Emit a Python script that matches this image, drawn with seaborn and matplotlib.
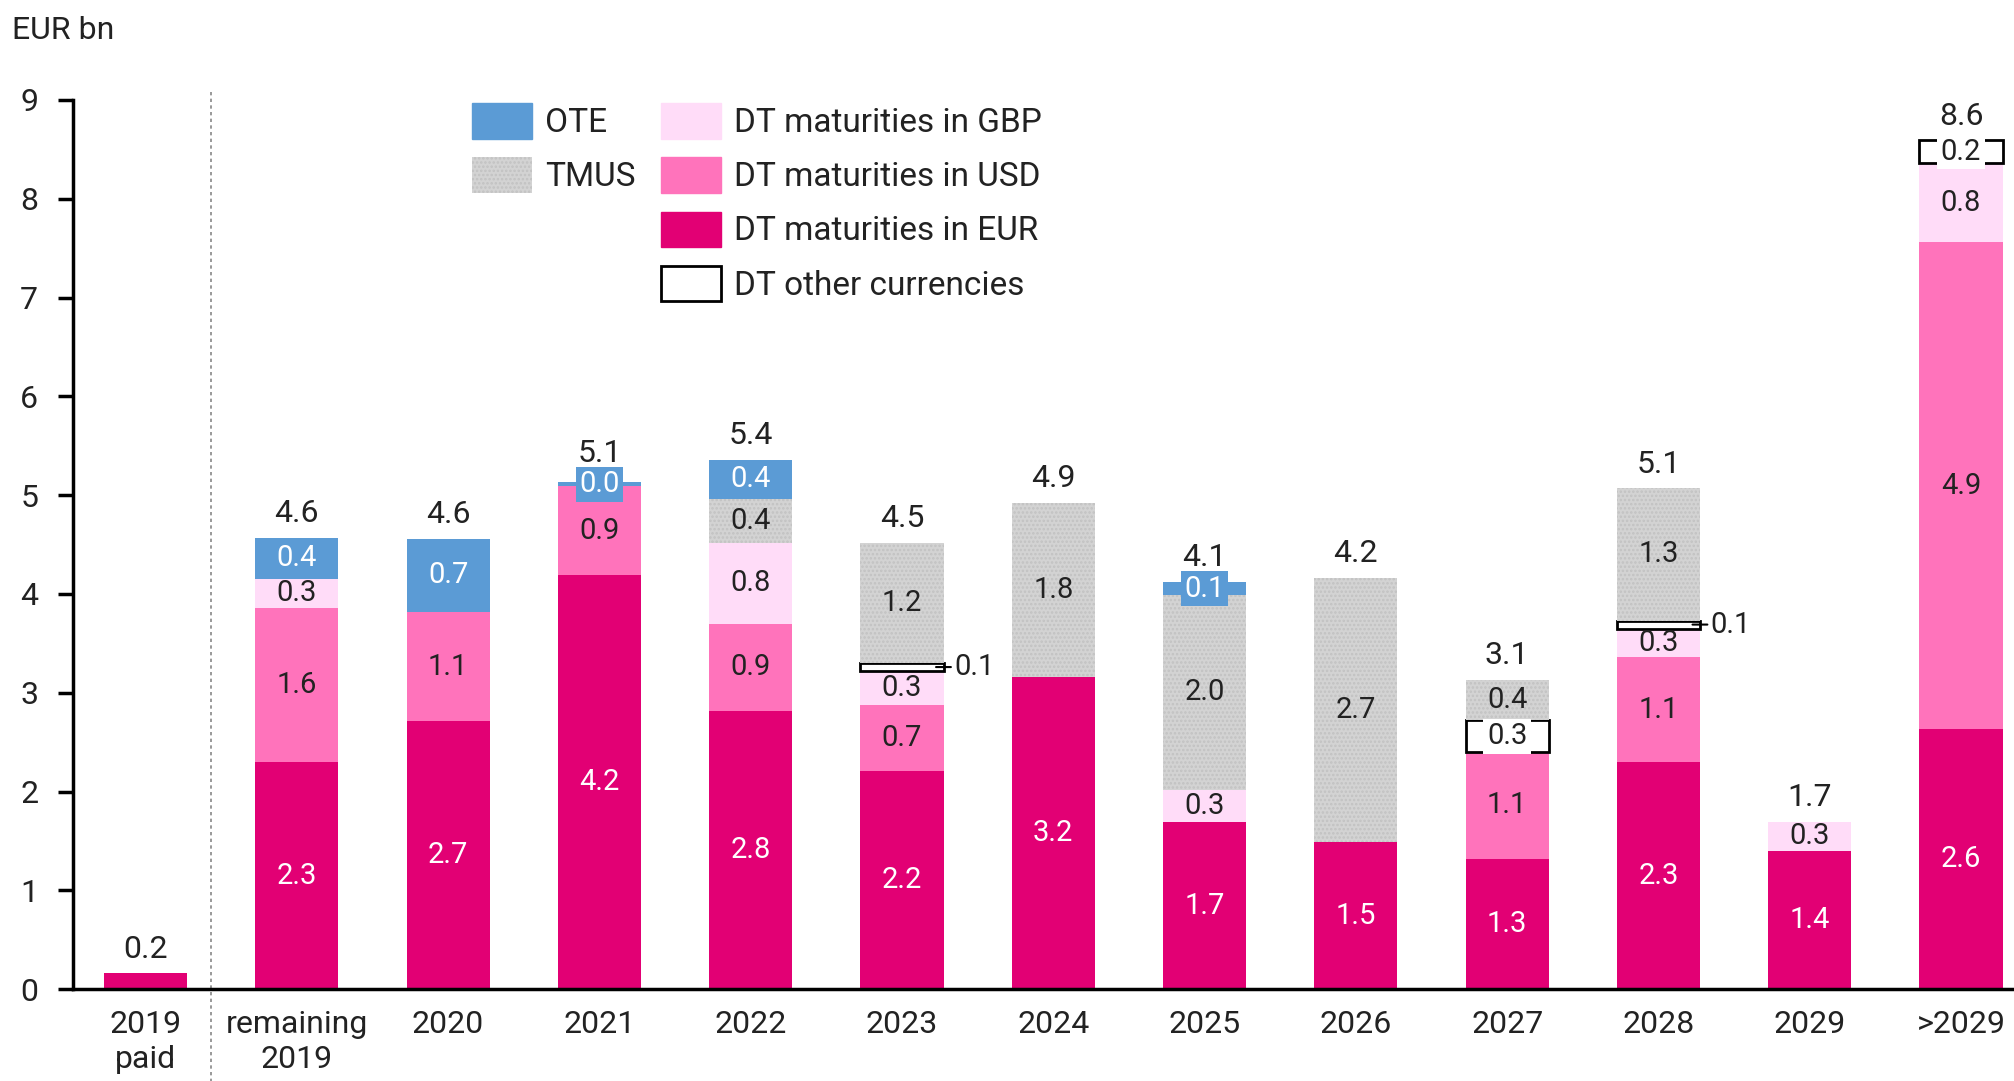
import numpy as np
import pandas as pd
import matplotlib
matplotlib.use("Agg")
import matplotlib.pyplot as plt
import matplotlib.patches as mpatches
import seaborn as sns

# ==============================================
# Data (EUR bn)
# ==============================================
categories = ["2019\npaid", "remaining\n2019", "2020", "2021", "2022", "2023", "2024",
              "2025", "2026", "2027", "2028", "2029", ">2029"]
dt_eur = [0.16, 2.30, 2.71, 4.19, 2.82, 2.21, 3.16, 1.69, 1.49, 1.32, 2.30, 1.40, 2.63]
dt_usd = [0, 1.56, 1.11, 0.90, 0.88, 0.67, 0, 0, 0, 1.08, 1.06, 0, 4.93]
dt_gbp = [0, 0.29, 0, 0, 0.82, 0.34, 0, 0.33, 0, 0, 0.29, 0.29, 0.80]
dt_other = [0, 0, 0, 0, 0, 0.08, 0, 0, 0, 0.32, 0.08, 0, 0.23]
tmus = [0, 0, 0, 0, 0.44, 1.22, 1.76, 1.97, 2.67, 0.41, 1.34, 0, 0]
ote = [0, 0.42, 0.74, 0.04, 0.40, 0, 0, 0.13, 0, 0, 0, 0, 0]

series_names = ["DT maturities in EUR", "DT maturities in USD", "DT maturities in GBP",
                "DT other currencies", "TMUS", "OTE"]
series_vals = [dt_eur, dt_usd, dt_gbp, dt_other, tmus, ote]

# colours
c_eur = "#e20074"
c_usd = "#ff73bb"
c_gbp = "#ffdcf8"
c_tmus = "#d3d3d3"
c_ote = "#5b9bd5"
txt_dark = "#222222"

sns.set_theme(style="white")
plt.rcParams["font.family"] = ["Roboto", "DejaVu Sans"]
plt.rcParams["hatch.linewidth"] = 1.2

fig = plt.figure(figsize=(20.14, 10.81), dpi=100)
ax = fig.add_axes([0.0362, 0.085, 0.9638, 0.8225])

x = np.arange(len(categories))
w = 0.55

styles = {
    "DT maturities in EUR": dict(color=c_eur, linewidth=0),
    "DT maturities in USD": dict(color=c_usd, linewidth=0),
    "DT maturities in GBP": dict(color=c_gbp, linewidth=0),
    "DT other currencies": dict(facecolor="white", edgecolor="black", linewidth=2),
    "TMUS": dict(facecolor=c_tmus, edgecolor="#c2c2c2", linewidth=0, hatch="...."),
    "OTE": dict(color=c_ote, linewidth=0),
}
label_col = {
    "DT maturities in EUR": ("white", None),
    "DT maturities in USD": (txt_dark, None),
    "DT maturities in GBP": (txt_dark, None),
    "DT other currencies": (txt_dark, "white"),
    "TMUS": (txt_dark, None),
    "OTE": ("white", c_ote),
}

bottom = np.zeros(len(categories))
for name, vals in zip(series_names, series_vals):
    vals = np.array(vals, dtype=float)
    nz = vals > 0
    ax.bar(x[nz], vals[nz], w, bottom=bottom[nz], **styles[name])
    tc, bg = label_col[name]
    for i, v in enumerate(vals):
        if v <= 0 or i == 0:
            continue
        yc = bottom[i] + v / 2
        if name == "DT other currencies" and v < 0.15:
            # small piece: label outside with a leader line
            ax.annotate(f"{v:.1f}", xy=(x[i] + w / 2 - 0.05, yc),
                        xytext=(x[i] + w / 2 + 0.07, yc), fontsize=21, color=txt_dark,
                        va="center", ha="left",
                        arrowprops=dict(arrowstyle="-", color="black", lw=1.5,
                                        shrinkA=0, shrinkB=0))
            continue
        bbox = None
        if bg is not None:
            bbox = dict(boxstyle="square,pad=0.12", facecolor=bg, edgecolor="none")
        ax.text(x[i], yc, f"{v:.1f}", ha="center", va="center", fontsize=21,
                color=tc, bbox=bbox)
    bottom += vals

# totals above bars
for i, tot in enumerate(bottom):
    off = 10 if ote[i] > 0 and ote[i] < 0.1 else 7
    ax.annotate(f"{tot:.1f}", xy=(x[i], tot), xytext=(0, off), textcoords="offset points",
                ha="center", va="bottom", fontsize=23, color=txt_dark)

# dotted separator between paid and remaining 2019
ax.axvline(0.43, ymin=-0.105, ymax=1.01, color="#888888", linestyle=(0, (2, 2)),
           linewidth=1.2, clip_on=False)

ax.set_xlim(-0.48, 12.35)
ax.set_ylim(0, 9)
ax.set_yticks(range(0, 10))
ax.set_xticks(x)
ax.set_xticklabels(categories, fontsize=23, color=txt_dark, linespacing=1.25)
ax.tick_params(axis="y", labelsize=23, labelcolor=txt_dark, left=True, length=11,
               width=2.5, direction="out", pad=14, color="black")
ax.tick_params(axis="x", length=0, pad=15)
for s in ["top", "right"]:
    ax.spines[s].set_visible(False)
for s in ["left", "bottom"]:
    ax.spines[s].set_color("black")
    ax.spines[s].set_linewidth(2.5)
ax.grid(False)

# legend: two columns, OTE/TMUS on the left
blank = mpatches.Patch(visible=False)
handles = [
    mpatches.Patch(color=c_ote),
    mpatches.Patch(facecolor=c_tmus, edgecolor="#c2c2c2", linewidth=0, hatch="...."),
    blank, blank,
    mpatches.Patch(color=c_gbp),
    mpatches.Patch(color=c_usd),
    mpatches.Patch(color=c_eur),
    mpatches.Patch(facecolor="white", edgecolor="black", linewidth=2),
]
labels = ["OTE", "TMUS", "", "", "DT maturities in GBP", "DT maturities in USD",
          "DT maturities in EUR", "DT other currencies"]
leg = ax.legend(handles, labels, ncol=2, loc="upper left", bbox_to_anchor=(0.19, 1.03),
                frameon=False, fontsize=24, handlelength=1.8, handleheight=1.25,
                handletextpad=0.4, labelspacing=0.55, columnspacing=0.75)
for t in leg.get_texts():
    t.set_color(txt_dark)

fig.text(0.006, 0.972, "EUR bn", fontsize=23, color=txt_dark, ha="left", va="center")

plt.savefig("out.png", dpi=100)
plt.close()
